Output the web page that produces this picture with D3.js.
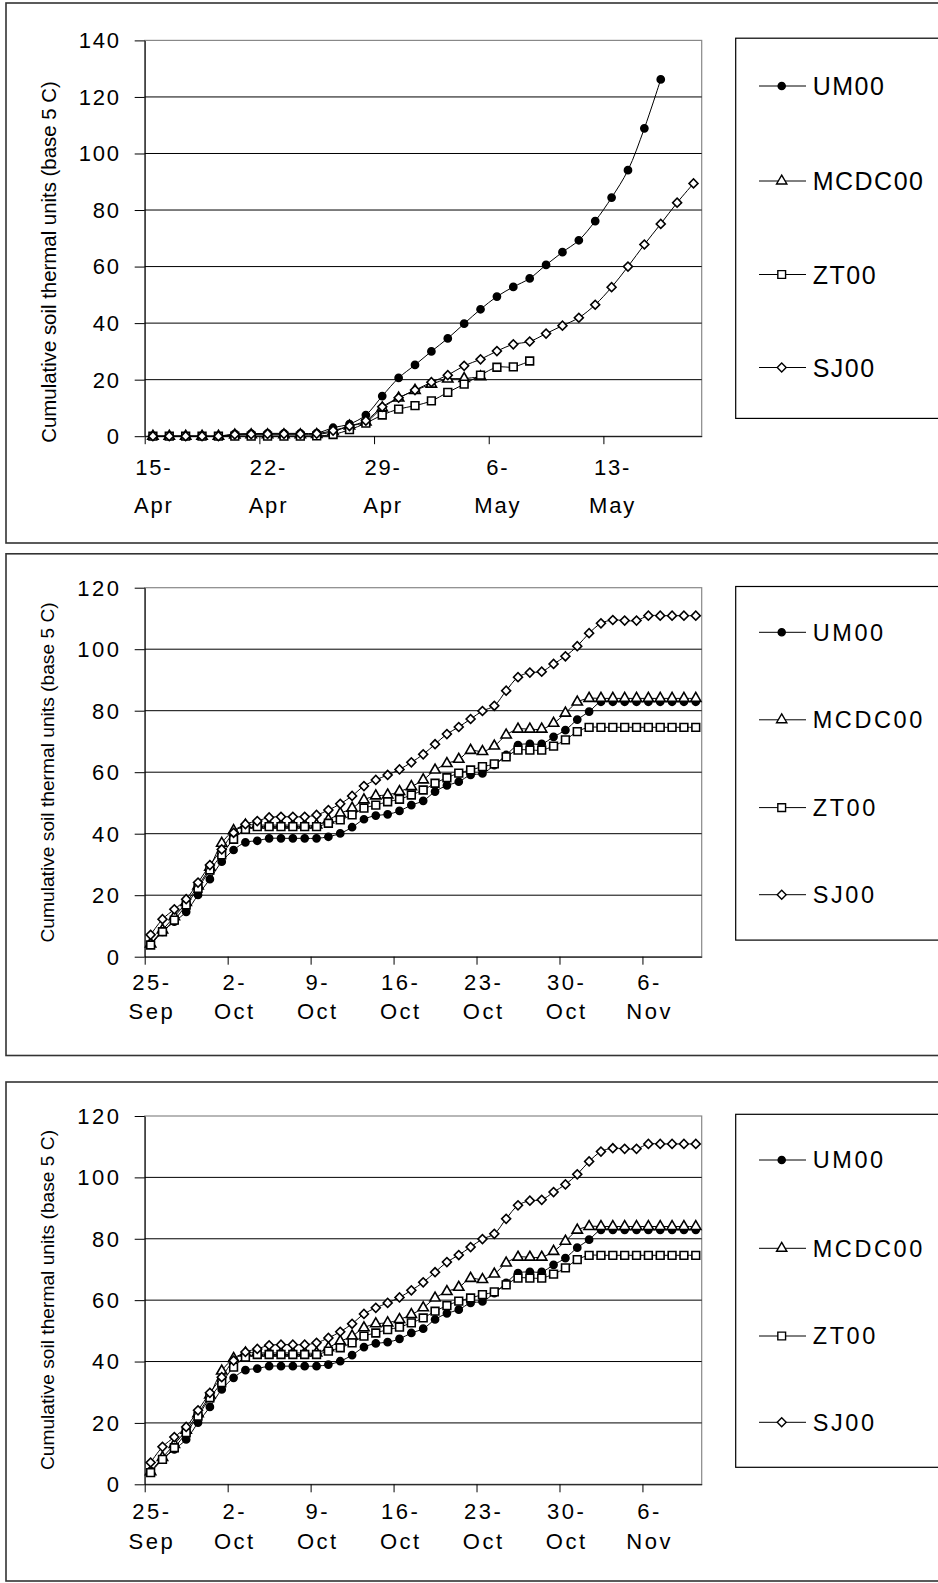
<!DOCTYPE html>
<html>
<head>
<meta charset="utf-8">
<script src="https://cdn.jsdelivr.net/npm/d3@7"></script>
<style>
  html, body { margin: 0; padding: 0; background: #fff; }
  svg { display: block; }
  text { font-family: "Liberation Sans", Arial, sans-serif; fill: #000; }
</style>
</head>
<body>
<svg id="chart" width="938" height="1583"></svg>
<script>
// categories: one point per day
const springDates = d3.utcDay.range(new Date(Date.UTC(2000, 3, 15)), new Date(Date.UTC(2000, 4, 19)));
const fallDates = d3.utcDay.range(new Date(Date.UTC(2000, 8, 25)), new Date(Date.UTC(2000, 10, 11)));

const springTickLabels = ['15-Apr', '22-Apr', '29-Apr', '6-May', '13-May'];
const fallTickLabels = ['25-Sep', '2-Oct', '9-Oct', '16-Oct', '23-Oct', '30-Oct', '6-Nov'];
const springYTicks = [0, 20, 40, 60, 80, 100, 120, 140];
const fallYTicks = [0, 20, 40, 60, 80, 100, 120];

const seriesNames = ['UM00', 'MCDC00', 'ZT00', 'SJ00'];
const yTitle = 'Cumulative soil thermal units (base 5 C)';

// spring 2000 (from 15-Apr)
const springUM00 = [0, 0, 0, 0, 0, 0.8, 0.9, 1.0, 1.0, 1.0, 1.1, 3.0, 4.3, 7.5, 14.2, 20.6,
  25.2, 30.0, 34.6, 39.8, 44.9, 49.4, 52.8, 55.8, 60.6, 65.1, 69.3, 76.1, 84.4, 94.1, 108.9, 126.2];
const springMCDC00 = [0, 0, 0, 0, 0, 0.4, 0.5, 0.5, 0.5, 0.5, 0.6, 1.6, 3.6, 5.0, 10.0, 13.5,
  16.2, 18.4, 20.2, 20.4, 21.0];
const springZT00 = [0, 0, 0, 0, 0, 0, 0, 0, 0, 0, 0.1, 0.6, 2.3, 4.6, 7.5, 9.6,
  10.8, 12.5, 15.5, 18.4, 21.6, 24.4, 24.5, 26.6];
const springSJ00 = [0, 0, 0, 0, 0, 0.6, 0.7, 0.8, 0.8, 0.8, 0.9, 2.0, 3.6, 5.5, 10.4, 13.6,
  16.3, 19.1, 21.6, 24.9, 27.2, 30.1, 32.5, 33.5, 36.3, 39.1, 41.9, 46.5, 52.7, 60.0, 67.8,
  75.1, 82.6, 89.4];

// fall 2000 (from 25-Sep)
const fallUM00 = [4.3, 8.1, 11.4, 14.6, 20.1, 25.2, 30.9, 34.7, 37.2, 37.7, 38.5, 38.5, 38.5,
  38.5, 38.5, 39.0, 40.1, 42.1, 44.7, 45.9, 46.3, 47.4, 49.3, 50.7, 53.7, 55.7, 56.9, 59.1,
  59.6, 62.3, 65.6, 68.8, 69.2, 69.2, 71.5, 73.7, 77.1, 79.7, 82.9, 82.9, 82.9, 82.9, 82.9,
  82.9, 82.9, 82.9, 82.9];
const fallMCDC00 = [4.1, 8.7, 13.0, 17.6, 23.0, 29.1, 36.9, 41.0, 42.8, 42.8, 42.8, 42.8, 42.8,
  42.8, 42.8, 44.5, 46.6, 48.3, 51.0, 52.3, 52.6, 53.7, 55.3, 57.5, 60.7, 62.8, 64.2, 67.1,
  66.7, 68.5, 72.1, 74.0, 74.0, 74.0, 75.9, 79.2, 82.8, 84.0, 84.0, 84.0, 84.0, 84.0, 84.0,
  84.0, 84.0, 84.0, 84.0];
const fallZT00 = [3.8, 8.1, 11.9, 16.8, 22.2, 28.2, 33.1, 38.2, 41.4, 42.3, 42.3, 42.3, 42.3,
  42.3, 42.3, 43.4, 44.5, 46.1, 48.3, 49.3, 50.4, 51.2, 52.6, 54.2, 56.4, 58.2, 59.7, 60.7,
  61.8, 62.7, 65.0, 67.2, 67.2, 67.2, 68.5, 70.5, 73.2, 74.6, 74.6, 74.6, 74.6, 74.6, 74.6,
  74.6, 74.6, 74.6, 74.6];
const fallSJ00 = [7.1, 12.2, 15.4, 18.7, 24.1, 29.8, 34.9, 40.3, 43.1, 44.1, 45.3, 45.5, 45.5,
  45.5, 46.1, 47.7, 49.7, 52.3, 55.5, 57.5, 59.1, 60.9, 63.2, 65.8, 69.1, 72.4, 74.7, 77.3,
  79.9, 81.6, 86.5, 90.9, 92.4, 92.7, 95.2, 97.7, 101.0, 105.2, 108.4, 109.5, 109.3, 109.3,
  110.9, 110.9, 110.9, 110.9, 110.9];

const panels = [
  {
    dates: springDates, ticks: springTickLabels, yTicks: springYTicks,
    series: [springUM00, springMCDC00, springZT00, springSJ00],
    frame: [6, 3, 543], plot: [144.7, 701.7, 40.4, 436.2],
    labelDy: [38.5, 77], tickFont: 22, tickLs: 1.8,
    title: { x: 56, y: 262, size: 20.4 },
    legend: { top: 38.2, bottom: 418.4, items: [86, 181, 274.5, 367.5], size: 25, ls: 1.5 }
  },
  {
    dates: fallDates, ticks: fallTickLabels, yTicks: fallYTicks,
    series: [fallUM00, fallMCDC00, fallZT00, fallSJ00],
    frame: [6, 553.8, 1055.5], plot: [144.7, 701.7, 587.7, 956.7],
    labelDy: [33, 62.5], tickFont: 22, tickLs: 2.5,
    title: { x: 53.5, y: 772.4, size: 19.2 },
    legend: { top: 586.5, bottom: 940.1, items: [632.3, 719.8, 807.6, 894.7], size: 23.5, ls: 2.6 }
  },
  {
    dates: fallDates, ticks: fallTickLabels, yTicks: fallYTicks,
    series: [fallUM00, fallMCDC00, fallZT00, fallSJ00],
    frame: [6, 1082, 1581], plot: [144.7, 701.7, 1116, 1484.3],
    labelDy: [35, 64.5], tickFont: 22, tickLs: 2.5,
    title: { x: 53.5, y: 1300, size: 19.2 },
    legend: { top: 1114.3, bottom: 1467.3, items: [1160, 1248.3, 1336, 1422.3], size: 23.5, ls: 2.6 }
  }
];

const svg = d3.select('#chart');

function markerPath(i) {
  if (i === 0) return d3.symbol(d3.symbolCircle, 40)();
  if (i === 1) return d3.symbol(d3.symbolTriangle, 46)();
  if (i === 2) return d3.symbol(d3.symbolSquare, 60)();
  return d3.symbol(d3.symbolSquare, 40)();
}
function markerRotate(i) {
  return i === 3 ? ' rotate(45)' : '';
}

function drawPanel(p) {
  const [left, right, top, bottom] = p.plot;
  const g = svg.append('g');

  // outer frame (right side runs off the page)
  g.append('rect')
    .attr('x', p.frame[0]).attr('y', p.frame[1])
    .attr('width', 960).attr('height', p.frame[2] - p.frame[1])
    .attr('fill', 'none').attr('stroke', '#333').attr('stroke-width', 1.6);

  const start = p.dates[0];
  const end = d3.utcDay.offset(p.dates[p.dates.length - 1], 1);
  const x = d3.scaleUtc().domain([start, end]).range([left, right]);
  const y = d3.scaleLinear().domain([0, d3.max(p.yTicks)]).range([bottom, top]);
  const mid = (d) => d3.utcHour.offset(d, 12);

  // plot area border
  g.append('rect')
    .attr('x', left).attr('y', top)
    .attr('width', right - left).attr('height', bottom - top)
    .attr('fill', 'none').attr('stroke', '#888').attr('stroke-width', 1.2);

  // gridlines
  g.append('g')
    .selectAll('line')
    .data(p.yTicks.filter((t) => t > 0 && t < d3.max(p.yTicks)))
    .join('line')
    .attr('x1', left).attr('x2', right)
    .attr('y1', (d) => y(d)).attr('y2', (d) => y(d))
    .attr('stroke', '#000').attr('stroke-width', 1);

  // y axis
  const yAxis = g.append('g')
    .attr('transform', `translate(${left},0)`)
    .call(d3.axisLeft(y).tickValues(p.yTicks).tickSize(10).tickSizeOuter(0).tickPadding(0));
  yAxis.select('.domain').attr('stroke', '#000');
  yAxis.selectAll('.tick line').attr('stroke', '#000');
  yAxis.selectAll('.tick text').remove();
  g.append('g')
    .selectAll('text')
    .data(p.yTicks)
    .join('text')
    .attr('x', 119 + p.tickLs)
    .attr('y', (d) => y(d))
    .attr('dy', '0.36em')
    .attr('text-anchor', 'end')
    .style('font-size', p.tickFont + 'px')
    .style('letter-spacing', p.tickLs + 'px')
    .text((d) => d);

  // x axis
  const tickDates = d3.utcDay.range(start, end, 7);
  const xAxis = g.append('g')
    .attr('transform', `translate(0,${bottom})`)
    .call(d3.axisBottom(x).tickValues(tickDates).tickSize(8).tickSizeOuter(0).tickFormat(''));
  xAxis.select('.domain').attr('stroke', '#000');
  xAxis.selectAll('.tick line').attr('stroke', '#000');

  const xl = g.append('g')
    .selectAll('text')
    .data(tickDates)
    .join('text')
    .attr('text-anchor', 'middle')
    .style('font-size', p.tickFont + 'px')
    .style('letter-spacing', p.tickLs + 'px');
  xl.append('tspan')
    .attr('x', (d) => x(mid(d)) + p.tickLs / 2)
    .attr('y', bottom + p.labelDy[0])
    .text((d, i) => p.ticks[i].split('-')[0] + '-');
  xl.append('tspan')
    .attr('x', (d) => x(mid(d)) + p.tickLs / 2)
    .attr('y', bottom + p.labelDy[1])
    .text((d, i) => p.ticks[i].split('-')[1]);

  // y title
  g.append('text')
    .attr('transform', `translate(${p.title.x},${p.title.y}) rotate(-90)`)
    .attr('text-anchor', 'middle')
    .style('font-size', p.title.size + 'px')
    .text(yTitle);

  // series
  const line = d3.line()
    .x((d, i) => x(mid(p.dates[i])))
    .y((d) => y(d))
    .curve(d3.curveCatmullRom);

  p.series.forEach((vals, si) => {
    const sg = g.append('g');
    sg.append('path')
      .attr('d', line(vals))
      .attr('fill', 'none')
      .attr('stroke', '#000')
      .attr('stroke-width', 1);
    sg.selectAll('path.m')
      .data(vals)
      .join('path')
      .attr('class', 'm')
      .attr('d', markerPath(si))
      .attr('transform', (d, i) => `translate(${x(mid(p.dates[i]))},${y(d)})${markerRotate(si)}`)
      .attr('fill', si === 0 ? '#000' : '#fff')
      .attr('stroke', '#000')
      .attr('stroke-width', 1.6);
  });

  // legend
  const L = p.legend;
  g.append('rect')
    .attr('x', 735.7).attr('y', L.top)
    .attr('width', 300).attr('height', L.bottom - L.top)
    .attr('fill', '#fff').attr('stroke', '#000').attr('stroke-width', 1.2);
  const items = g.append('g')
    .selectAll('g')
    .data(seriesNames)
    .join('g')
    .attr('transform', (d, i) => `translate(0,${L.items[i]})`);
  items.append('line')
    .attr('x1', 759).attr('x2', 806)
    .attr('stroke', '#000').attr('stroke-width', 1);
  items.append('path')
    .attr('d', (d, i) => markerPath(i))
    .attr('transform', (d, i) => `translate(781.7,0)${markerRotate(i)}`)
    .attr('fill', (d, i) => (i === 0 ? '#000' : '#fff'))
    .attr('stroke', '#000').attr('stroke-width', 1.4);
  items.append('text')
    .attr('x', 812.7)
    .attr('dy', '0.36em')
    .style('font-size', L.size + 'px')
    .style('letter-spacing', L.ls + 'px')
    .text((d) => d);
}

panels.forEach(drawPanel);
</script>
</body>
</html>
